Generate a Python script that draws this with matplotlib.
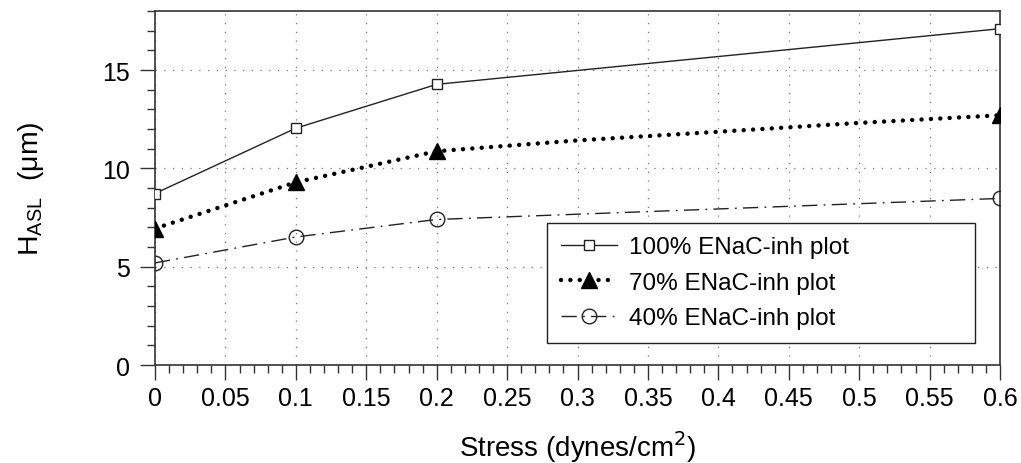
import matplotlib
matplotlib.use("Agg")
import matplotlib.pyplot as plt
from matplotlib.ticker import MultipleLocator

plt.rcParams['font.family'] = ['Liberation Sans', 'DejaVu Sans']

# Data
x_main = [0.0, 0.1, 0.2, 0.6]
h_100 = [8.72, 12.04, 14.27, 17.1]
x_70 = [0.0, 0.1, 0.2, 0.3, 0.4, 0.5, 0.6]
h_70 = [6.94, 9.29, 10.87, 11.42, 11.86, 12.31, 12.7]
h_40 = [5.19, 6.51, 7.40, 8.47]
labels = ['100% ENaC-inh plot', '70% ENaC-inh plot', '40% ENaC-inh plot']
x_ticks = [0, 0.05, 0.1, 0.15, 0.2, 0.25, 0.3, 0.35, 0.4, 0.45, 0.5, 0.55, 0.6]
x_ticklabels = ['0', '0.05', '0.1', '0.15', '0.2', '0.25', '0.3', '0.35', '0.4', '0.45', '0.5', '0.55', '0.6']
y_ticks = [0, 5, 10, 15]

fig = plt.figure(figsize=(10.21, 4.64), dpi=100)
ax = fig.add_axes([155/1021, 1-366/464, 845/1021, 354/464])

ax.plot(x_main, h_100, color='#222222', lw=1.0, marker='s', ms=6.5,
        mfc='white', mec='#222222', mew=1.0, label=labels[0], zorder=4)
l70, = ax.plot(x_70, h_70, color='black', lw=3.2, marker='^', ms=11,
               mfc='black', mec='black', markevery=[0, 1, 2, 6],
               label=labels[1], zorder=4)
l70.set_dashes((0.01, 2.1))
l70.set_dash_capstyle('round')
l40, = ax.plot(x_main, h_40, color='#222222', lw=1.0, marker='o', ms=10.5,
               mfc='none', mec='#222222', mew=1.0, label=labels[2], zorder=4)
l40.set_dashes((11, 4.5, 1.3, 4.5))

ax.set_xlim(0, 0.6)
ax.set_ylim(0, 18)
ax.set_xticks(x_ticks)
ax.set_xticklabels(x_ticklabels)
ax.set_yticks(y_ticks)
ax.xaxis.set_minor_locator(MultipleLocator(0.01))
ax.yaxis.set_minor_locator(MultipleLocator(1))
ax.tick_params(which='major', direction='out', length=11, width=1.0,
               labelsize=18, color='#333333', top=False, right=False)
ax.tick_params(which='minor', direction='out', length=6, width=1.0,
               color='#333333', top=False, right=False)
ax.tick_params(axis='x', pad=4)
ax.tick_params(axis='y', pad=7)

for s in ax.spines.values():
    s.set_color('#333333')
    s.set_linewidth(1.2)

ax.grid(True, which='major', color='#777777', lw=0.9, linestyle=(0, (1, 6)))
ax.set_axisbelow(True)

ax.set_xlabel('Stress (dynes/cm$^2$)', fontsize=20)
ax.xaxis.set_label_coords(0.5, -0.178)
ax.set_ylabel(r'H$_\mathregular{ASL}$  (μm)', fontsize=20.5)
ax.yaxis.set_label_coords(-0.129, 0.5)

leg = ax.legend(loc='lower left', bbox_to_anchor=(0.464, 0.062, 0.506, 0.333),
                mode='expand', fontsize=17.5, frameon=True, fancybox=False,
                handlelength=2.3, borderpad=0.57, labelspacing=0.55,
                handletextpad=0.5, borderaxespad=0)
leg.get_frame().set_edgecolor('#222222')
leg.get_frame().set_linewidth(1.0)
leg.get_frame().set_alpha(1)

fig.savefig('out.png', dpi=100)
